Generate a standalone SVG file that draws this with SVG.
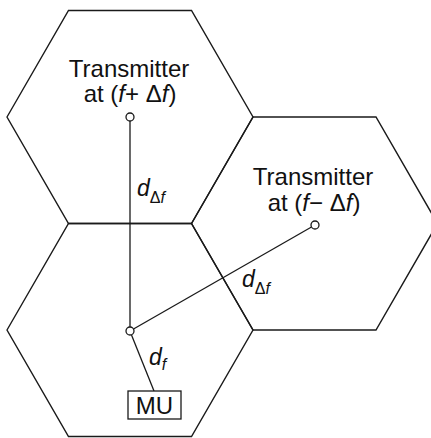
<svg xmlns="http://www.w3.org/2000/svg" width="431" height="438" viewBox="0 0 431 438">
<style>
.cell{fill:none;stroke:#1a1a1a;stroke-width:1.4;stroke-linejoin:miter}
.conn{stroke:#1a1a1a;stroke-width:1.3;fill:none}
.node{fill:#fff;stroke:#1a1a1a;stroke-width:1.3}
.lbl{font-family:"Liberation Sans",Arial,sans-serif;font-size:24px;fill:#111;text-anchor:middle}
.it{font-style:italic}
.d{font-family:"Liberation Sans",Arial,sans-serif;font-size:23px;font-style:italic;fill:#111}
.sub{font-size:16px}
</style>
<rect width="431" height="438" fill="#fff"/>
<g id="cells">
<polygon class="cell" points="7,117 68.5,10.5 191.5,10.5 253,117 191.5,223.5 68.5,223.5"/>
<polygon class="cell" points="7,330 68.5,223.5 191.5,223.5 253,330 191.5,436.5 68.5,436.5"/>
<polygon class="cell" points="191.5,223.5 253,117 376,117 437.5,223.5 376,330 253,330"/>
</g>
<g id="connectors">
<line class="conn" x1="130" y1="121" x2="130" y2="327"/>
<line class="conn" x1="133.5" y1="329" x2="311.5" y2="227"/>
<line class="conn" x1="131.5" y1="335" x2="154" y2="391"/>
<text class="d" x="137" y="196">d<tspan class="sub" dy="7" font-style="normal">Δ</tspan><tspan class="sub">f</tspan></text>
<text class="d" x="242" y="287">d<tspan class="sub" dy="7" font-style="normal">Δ</tspan><tspan class="sub">f</tspan></text>
<text class="d" x="149" y="365">d<tspan class="sub" dy="5">f</tspan></text>
</g>
<g id="tx1">
<circle class="node" cx="130" cy="117" r="4"/>
<text class="lbl" x="129" y="77">Transmitter</text>
<text class="lbl" x="130" y="102">at (<tspan class="it">f</tspan>+ Δ<tspan class="it">f</tspan>)</text>
</g>
<g id="tx2">
<circle class="node" cx="315" cy="225" r="4"/>
<text class="lbl" x="313" y="185">Transmitter</text>
<text class="lbl" x="314" y="211">at (<tspan class="it">f</tspan>− Δ<tspan class="it">f</tspan>)</text>
</g>
<g id="mobile">
<circle class="node" cx="130" cy="331" r="4"/>
</g>
<g id="mu">
<rect x="128" y="391" width="53" height="28" fill="#fff" stroke="#1a1a1a" stroke-width="1.3"/>
<text class="lbl" x="154.5" y="414" font-size="23">MU</text>
</g>
</svg>
